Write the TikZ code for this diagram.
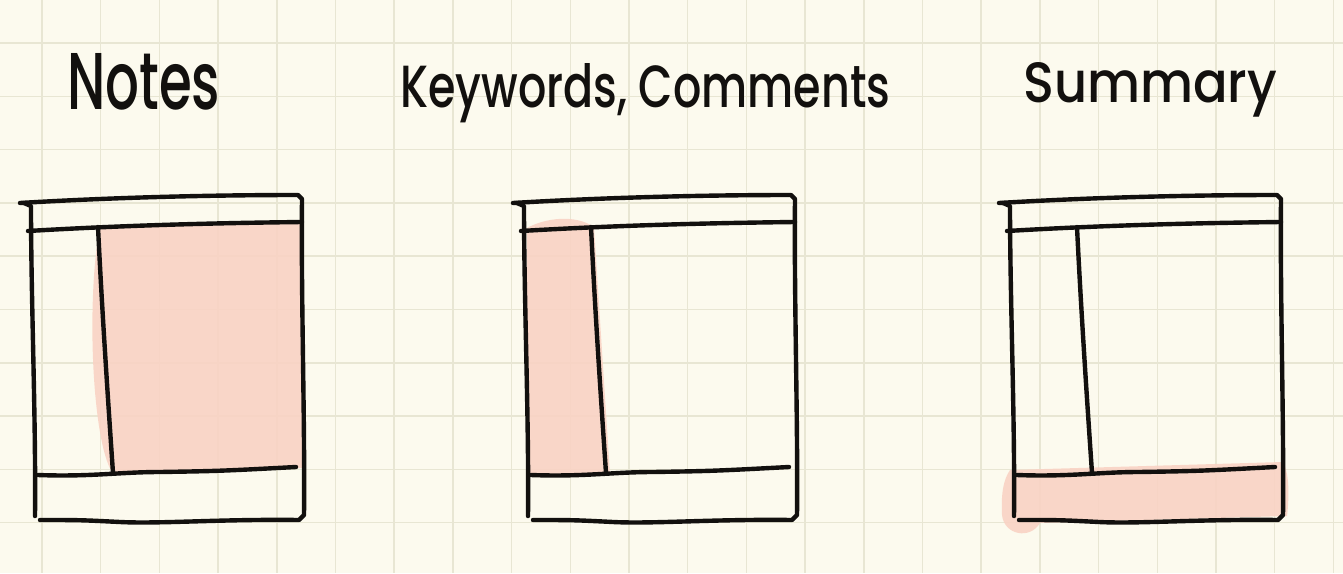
\documentclass[tikz,border=0pt]{standalone}
\usepackage{fontspec}
\setmainfont{Poppins Medium}
\usepackage{graphicx}
\definecolor{paper}{RGB}{252,250,238}
\definecolor{gridc}{RGB}{232,230,211}
\definecolor{blush}{RGB}{249,211,196}
\definecolor{ink}{RGB}{18,16,14}
\tikzset{
  pen/.style={draw=ink, line width=4.4pt, line cap=round, line join=round},
  gridline/.style={draw=gridc, line width=1.5pt},
  hilite/.style={fill=blush, draw=none, opacity=0.9},
  title/.style={inner sep=0pt, anchor=base west, text=ink}
}
\newcommand{\sheetlines}{%
  \draw[pen] (20,203) .. controls (120,197) and (220,195) .. (298,195) -- (302,199)
     .. controls (301,300) and (305,420) .. (304,515) -- (299,520)
     .. controls (220,519) and (160,524) .. (120,522) .. controls (80,520) .. (40,520);
  \draw[pen] (24,203) -- (31,206) .. controls (31,300) and (36,420) .. (35,516);
  \draw[pen] (28,231) .. controls (130,225) and (220,223) .. (302,222);
  \draw[pen] (98,227) .. controls (102,310) and (108,400) .. (113,473);
  \draw[pen] (38,475) .. controls (90,477) and (120,472) .. (160,472) .. controls (220,471) .. (296,467);
}
\begin{document}
\begin{tikzpicture}[x=1pt,y=-1pt]
\useasboundingbox (0,0) rectangle (1343,573);
\fill[paper] (0,0) rectangle (1343,573);
% grid
\foreach \i in {0,...,22} \draw[gridline] ({42+58.7*\i},0) -- ({42+58.7*\i},573);
\foreach \j in {0,...,9} \draw[gridline] (0,{43+53.3*\j}) -- (1343,{43+53.3*\j});
% titles
\node[title] (tnotes) at (67,109) {\resizebox{153pt}{56pt}{Notes}};
\node[title] (tkey) at (400,107) {\resizebox{490pt}{44pt}{Keywords, Comments}};
\node[title] (tsum) at (1023,102) {\resizebox{254pt}{40pt}{Summary}};
% highlights
\path[hilite] (100,226) -- (302,222) -- (303,468) -- (112,472)
   .. controls (92,440) and (86,300) .. (100,226) -- cycle;
\path[hilite] (527,228) .. controls (545,218) and (575,214) .. (594,227) -- (610,475) -- (527,476) -- cycle;
\path[hilite] (1010,470) -- (1282,462) .. controls (1290,470) and (1289,500) .. (1287,516)
   -- (1040,523) .. controls (1030,540) and (1004,535) .. (1002,515) .. controls (1001,495) and (1003,480) .. (1010,470) -- cycle;
% sheets
\begin{scope}\sheetlines\end{scope}
\begin{scope}[xshift=493pt]\sheetlines\end{scope}
\begin{scope}[xshift=979pt]\sheetlines\end{scope}
\end{tikzpicture}
\end{document}
